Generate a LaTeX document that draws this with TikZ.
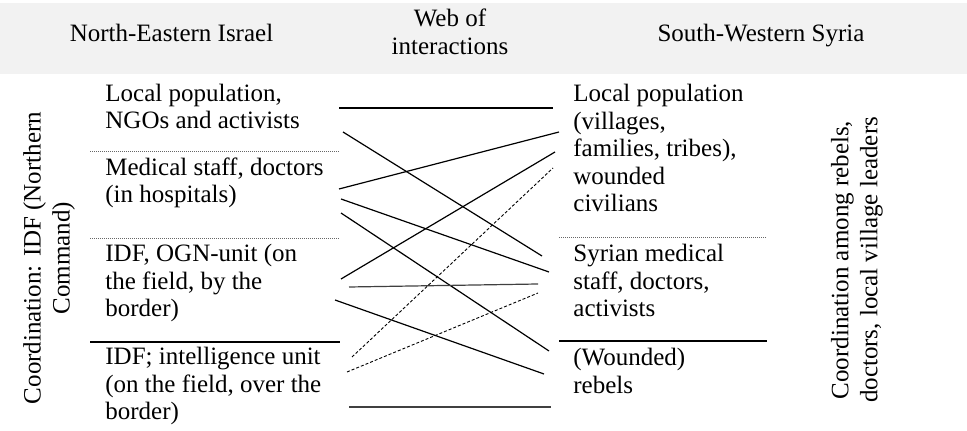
\documentclass[tikz,border=0pt]{standalone}
\usepackage{fontspec}
\setmainfont{Liberation Serif}
\begin{document}
\begin{tikzpicture}[x=0.5pt,y=-0.5pt,
  txt/.style={font=\fontsize{12.5}{13.75}\selectfont, inner sep=0pt, align=left, anchor=base west},
  head/.style={font=\fontsize{12.5}{14}\selectfont, inner sep=0pt, align=center},
  side/.style={font=\fontsize{12.5}{14.5}\selectfont, inner sep=0pt, align=center, rotate=90},
  sep/.style={black!60, line width=0.5pt, dash pattern=on 0.5pt off 0.5pt},
  bar/.style={line width=1pt},
  link/.style={line width=0.6pt},
  hint/.style={line width=0.45pt, dash pattern=on 1.5pt off 1pt}]
\useasboundingbox (0,0) rectangle (967,431);
% header band
\fill[black!5] (0,3) rectangle (967,74);
\node[head, anchor=base] (hisr) at (171.5,42) {North-Eastern Israel};
\node[head, anchor=base] (hweb) at (450,55) {Web of\\interactions};
\node[head, anchor=base] (hsyr) at (761,42) {South-Western Syria};
% side labels
\node[side] (cisr) at (49,258) {Coordination: IDF (Northern\\Command)};
\node[side] (csyr) at (857,260) {Coordination among rebels,\\doctors, local village leaders};
% left column (anchored at the last line)
\node[txt] (isrpop) at (105,129) {Local population,\\NGOs and activists};
\node[txt] (isrmed) at (105,203) {Medical staff, doctors\\(in hospitals)};
\node[txt] (isrogn) at (105,316.7) {IDF, OGN-unit (on\\the field, by the\\border)};
\node[txt] (isrint) at (105,420) {IDF; intelligence unit\\(on the field, over the\\border)};
\draw[sep] (90,151.7) -- (339,151.7);
\draw[sep] (90,238.3) -- (339,238.3);
\draw[bar] (90,341.7) -- (340,341.7);
% right column
\node[txt] (syrpop) at (573,212) {Local population\\(villages,\\families, tribes),\\wounded\\civilians};
\node[txt] (syrmed) at (573,317) {Syrian medical\\staff, doctors,\\activists};
\node[txt] (syrreb) at (573,393.3) {(Wounded)\\rebels};
\draw[sep] (559,237.3) -- (767,237.3);
\draw[bar] (559,341.2) -- (767,341.2);
% web of interactions
\coordinate (w1) at (339,108);  \coordinate (e1) at (553,108);
\coordinate (w2) at (343,132);  \coordinate (e2) at (542,256);
\coordinate (w3) at (339,189);  \coordinate (e3) at (559,132);
\coordinate (w4) at (341,199);  \coordinate (e4) at (549,272);
\coordinate (w5) at (341,213);  \coordinate (e5) at (549,351);
\coordinate (w6) at (341,279);  \coordinate (e6) at (555,152);
\coordinate (w7) at (349,287);  \coordinate (e7) at (538,284);
\coordinate (w8) at (335,300);  \coordinate (e8) at (544,374);
\coordinate (w9) at (352,357);  \coordinate (e9) at (553,168);
\coordinate (w10) at (347,372); \coordinate (e10) at (538,293);
\coordinate (w11) at (349,407); \coordinate (e11) at (551,407);
\draw[link] (w1) -- (e1);
\draw[link] (w2) -- (e2);
\draw[link] (w3) -- (e3);
\draw[link] (w4) -- (e4);
\draw[link] (w5) -- (e5);
\draw[link] (w6) -- (e6);
\draw[link, black!75] (w7) -- (e7);
\draw[link] (w8) -- (e8);
\draw[hint] (w9) -- (e9);
\draw[hint] (w10) -- (e10);
\draw[link, black!75] (w11) -- (e11);
\end{tikzpicture}
\end{document}
